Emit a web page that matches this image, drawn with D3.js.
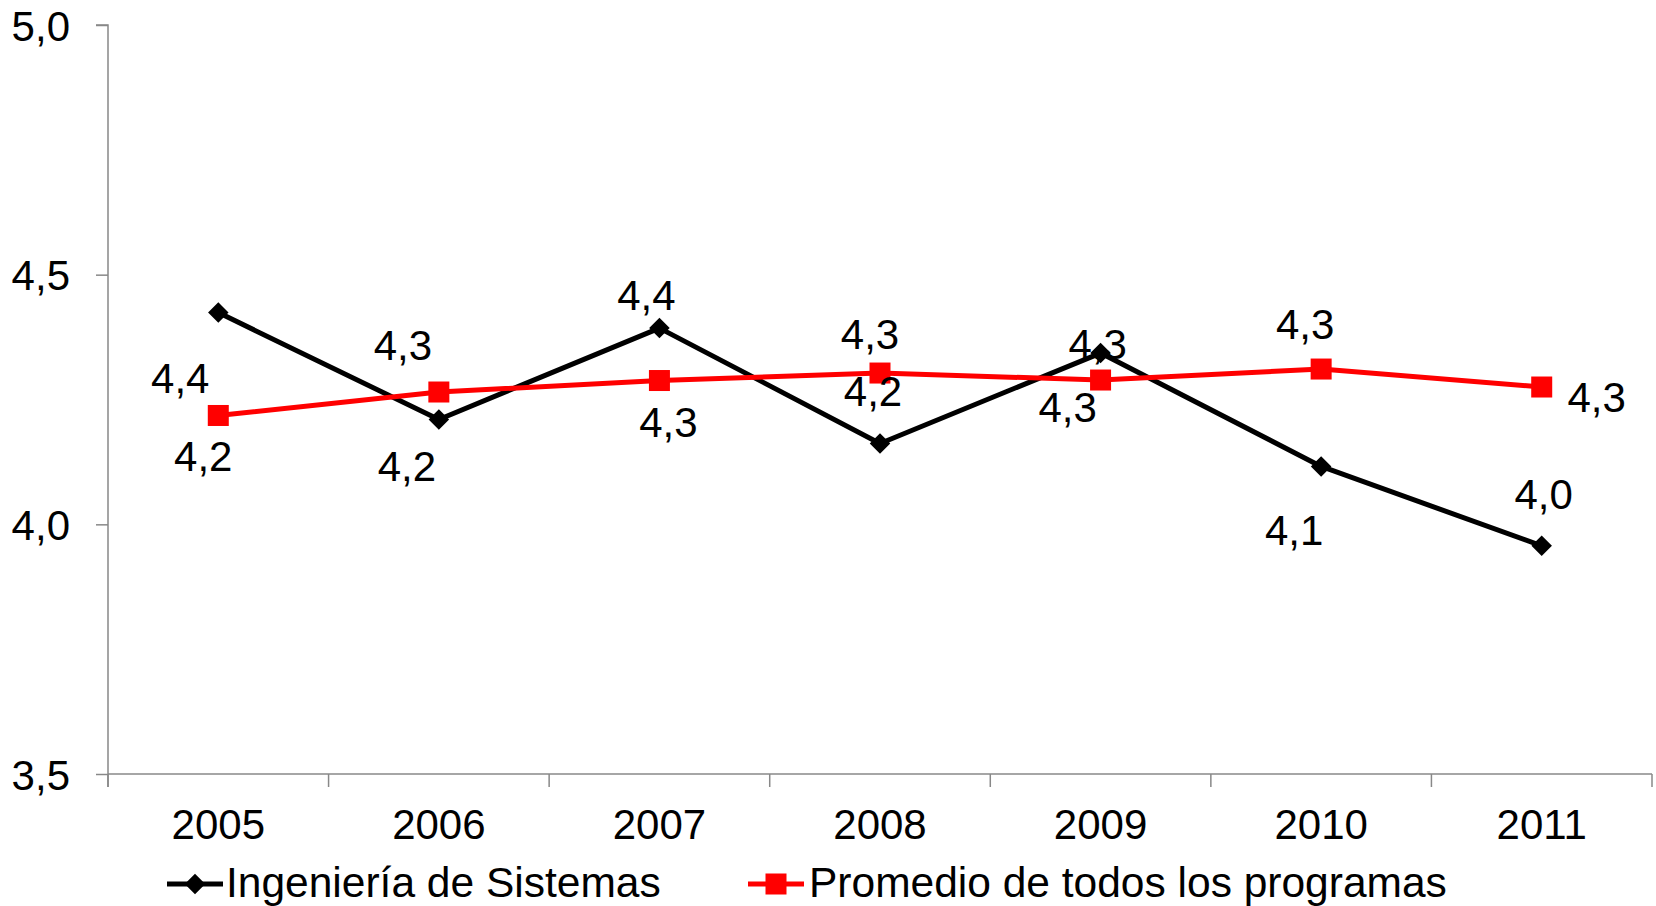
<!DOCTYPE html>
<html>
<head>
<meta charset="utf-8">
<script src="https://cdn.jsdelivr.net/npm/d3@7"></script>
<style>
  body { margin: 0; background: #fff; }
  text { font-family: "Liberation Sans", Arial, sans-serif; }
</style>
</head>
<body>
<svg id="plot"></svg>
<script>
// Data
const years = ["2005", "2006", "2007", "2008", "2009", "2010", "2011"];
const sistemas = [4.424, 4.210, 4.393, 4.162, 4.343, 4.116, 3.957];
const promedio = [4.218, 4.265, 4.288, 4.303, 4.289, 4.311, 4.275];
const yTicks = [3.5, 4.0, 4.5, 5.0];
const seriesNames = ["Ingeniería de Sistemas", "Promedio de todos los programas"];

// label offsets (dx, dy) relative to each point, placed by hand like in the original
const sistemasLabelOffsets = [[-38, 80], [-32, 62], [-13, -18], [-7, -37], [-3, 6], [-27, 79], [2, -37]];
const promedioLabelOffsets = [[-15, 56], [-36, -32], [9, 56], [-10, -24], [-33, 42], [-16, -30], [55, 25]];

const W = 1656, H = 906;
const margin = { left: 108, right: 1652, top: 25, bottom: 774 };
const fontSize = 42;
const legendFontSize = 42.5;
const fmt = v => d3.format(".1f")(v).replace(".", ",");

const svg = d3.select("#plot")
    .attr("width", W)
    .attr("height", H)
    .style("background", "#FFFFFF");

// Scales
const x = d3.scaleBand()
    .domain(years)
    .range([margin.left, margin.right]);

const y = d3.scaleLinear()
    .domain([3.5, 5.0])
    .range([margin.bottom, margin.top]);

const axisColor = "#888888";

// Y axis
const yAxis = svg.append("g")
    .attr("transform", "translate(" + margin.left + ",0)")
    .call(d3.axisLeft(y).tickValues(yTicks).tickSize(12).tickPadding(26).tickFormat(fmt));
yAxis.select(".domain").attr("stroke", axisColor).attr("stroke-width", 1.5)
    .attr("d", "M-12," + margin.top + "H0V" + (margin.bottom + 13));
yAxis.selectAll(".tick line").attr("stroke", axisColor).attr("stroke-width", 1.5);
yAxis.selectAll(".tick text")
    .style("font-size", fontSize + "px")
    .attr("fill", "#000")
    .attr("dy", "0.36em");

// X axis
const xAxis = svg.append("g")
    .attr("transform", "translate(0," + margin.bottom + ")")
    .call(d3.axisBottom(x).tickSize(0).tickPadding(35));
xAxis.select(".domain").attr("stroke", axisColor).attr("stroke-width", 1.5)
    .attr("d", "M" + margin.left + ",0H" + margin.right);
xAxis.selectAll(".tick text")
    .style("font-size", fontSize + "px")
    .attr("fill", "#000")
    .attr("dy", "0.72em");

// tick marks between categories
const edges = years.map(d => x(d)).concat([margin.right]);
svg.selectAll(".xtick")
    .data(edges)
    .enter().append("line")
    .attr("class", "xtick")
    .attr("x1", d => d).attr("x2", d => d)
    .attr("y1", margin.bottom).attr("y2", margin.bottom + 13)
    .attr("stroke", axisColor)
    .attr("stroke-width", 1.5);

const cx = d => x(d) + x.bandwidth() / 2;

const line = d3.line()
    .x((d, i) => cx(years[i]))
    .y(d => y(d));

const series = [
    { name: seriesNames[0], values: sistemas, offsets: sistemasLabelOffsets, color: "#000000", marker: "diamond" },
    { name: seriesNames[1], values: promedio, offsets: promedioLabelOffsets, color: "#FF0000", marker: "square" }
];

function drawMarker(g, type, color, px, py) {
    if (type === "diamond") {
        g.append("path")
            .attr("d", d3.symbol().type(d3.symbolSquare).size(210)())
            .attr("transform", "translate(" + px + "," + py + ") rotate(45)")
            .attr("fill", color);
    } else {
        g.append("rect")
            .attr("x", px - 10.5).attr("y", py - 10.5)
            .attr("width", 21).attr("height", 21)
            .attr("fill", color);
    }
}

// Lines and markers
series.forEach(s => {
    const g = svg.append("g");
    g.append("path")
        .datum(s.values)
        .attr("fill", "none")
        .attr("stroke", s.color)
        .attr("stroke-width", 5)
        .attr("stroke-linejoin", "round")
        .attr("d", line);
    s.values.forEach((v, i) => drawMarker(g, s.marker, s.color, cx(years[i]), y(v)));
});

// Data labels
series.forEach(s => {
    svg.selectAll(null)
        .data(s.values)
        .enter().append("text")
        .attr("x", (d, i) => cx(years[i]) + s.offsets[i][0])
        .attr("y", (d, i) => y(d) + s.offsets[i][1])
        .attr("text-anchor", "middle")
        .style("font-size", fontSize + "px")
        .attr("fill", "#000")
        .text(d => fmt(d));
});

// Legend
const legendItems = [
    { x: 167, textX: 226 },
    { x: 748, textX: 809 }
];
series.forEach((s, i) => {
    const g = svg.append("g");
    const lx = legendItems[i].x;
    g.append("line")
        .attr("x1", lx).attr("x2", lx + 56)
        .attr("y1", 884).attr("y2", 884)
        .attr("stroke", s.color)
        .attr("stroke-width", 5);
    drawMarker(g, s.marker, s.color, lx + 28, 884);
    g.append("text")
        .attr("x", legendItems[i].textX)
        .attr("y", 897)
        .style("font-size", legendFontSize + "px")
        .attr("fill", "#000")
        .text(s.name);
});
</script>
</body>
</html>
